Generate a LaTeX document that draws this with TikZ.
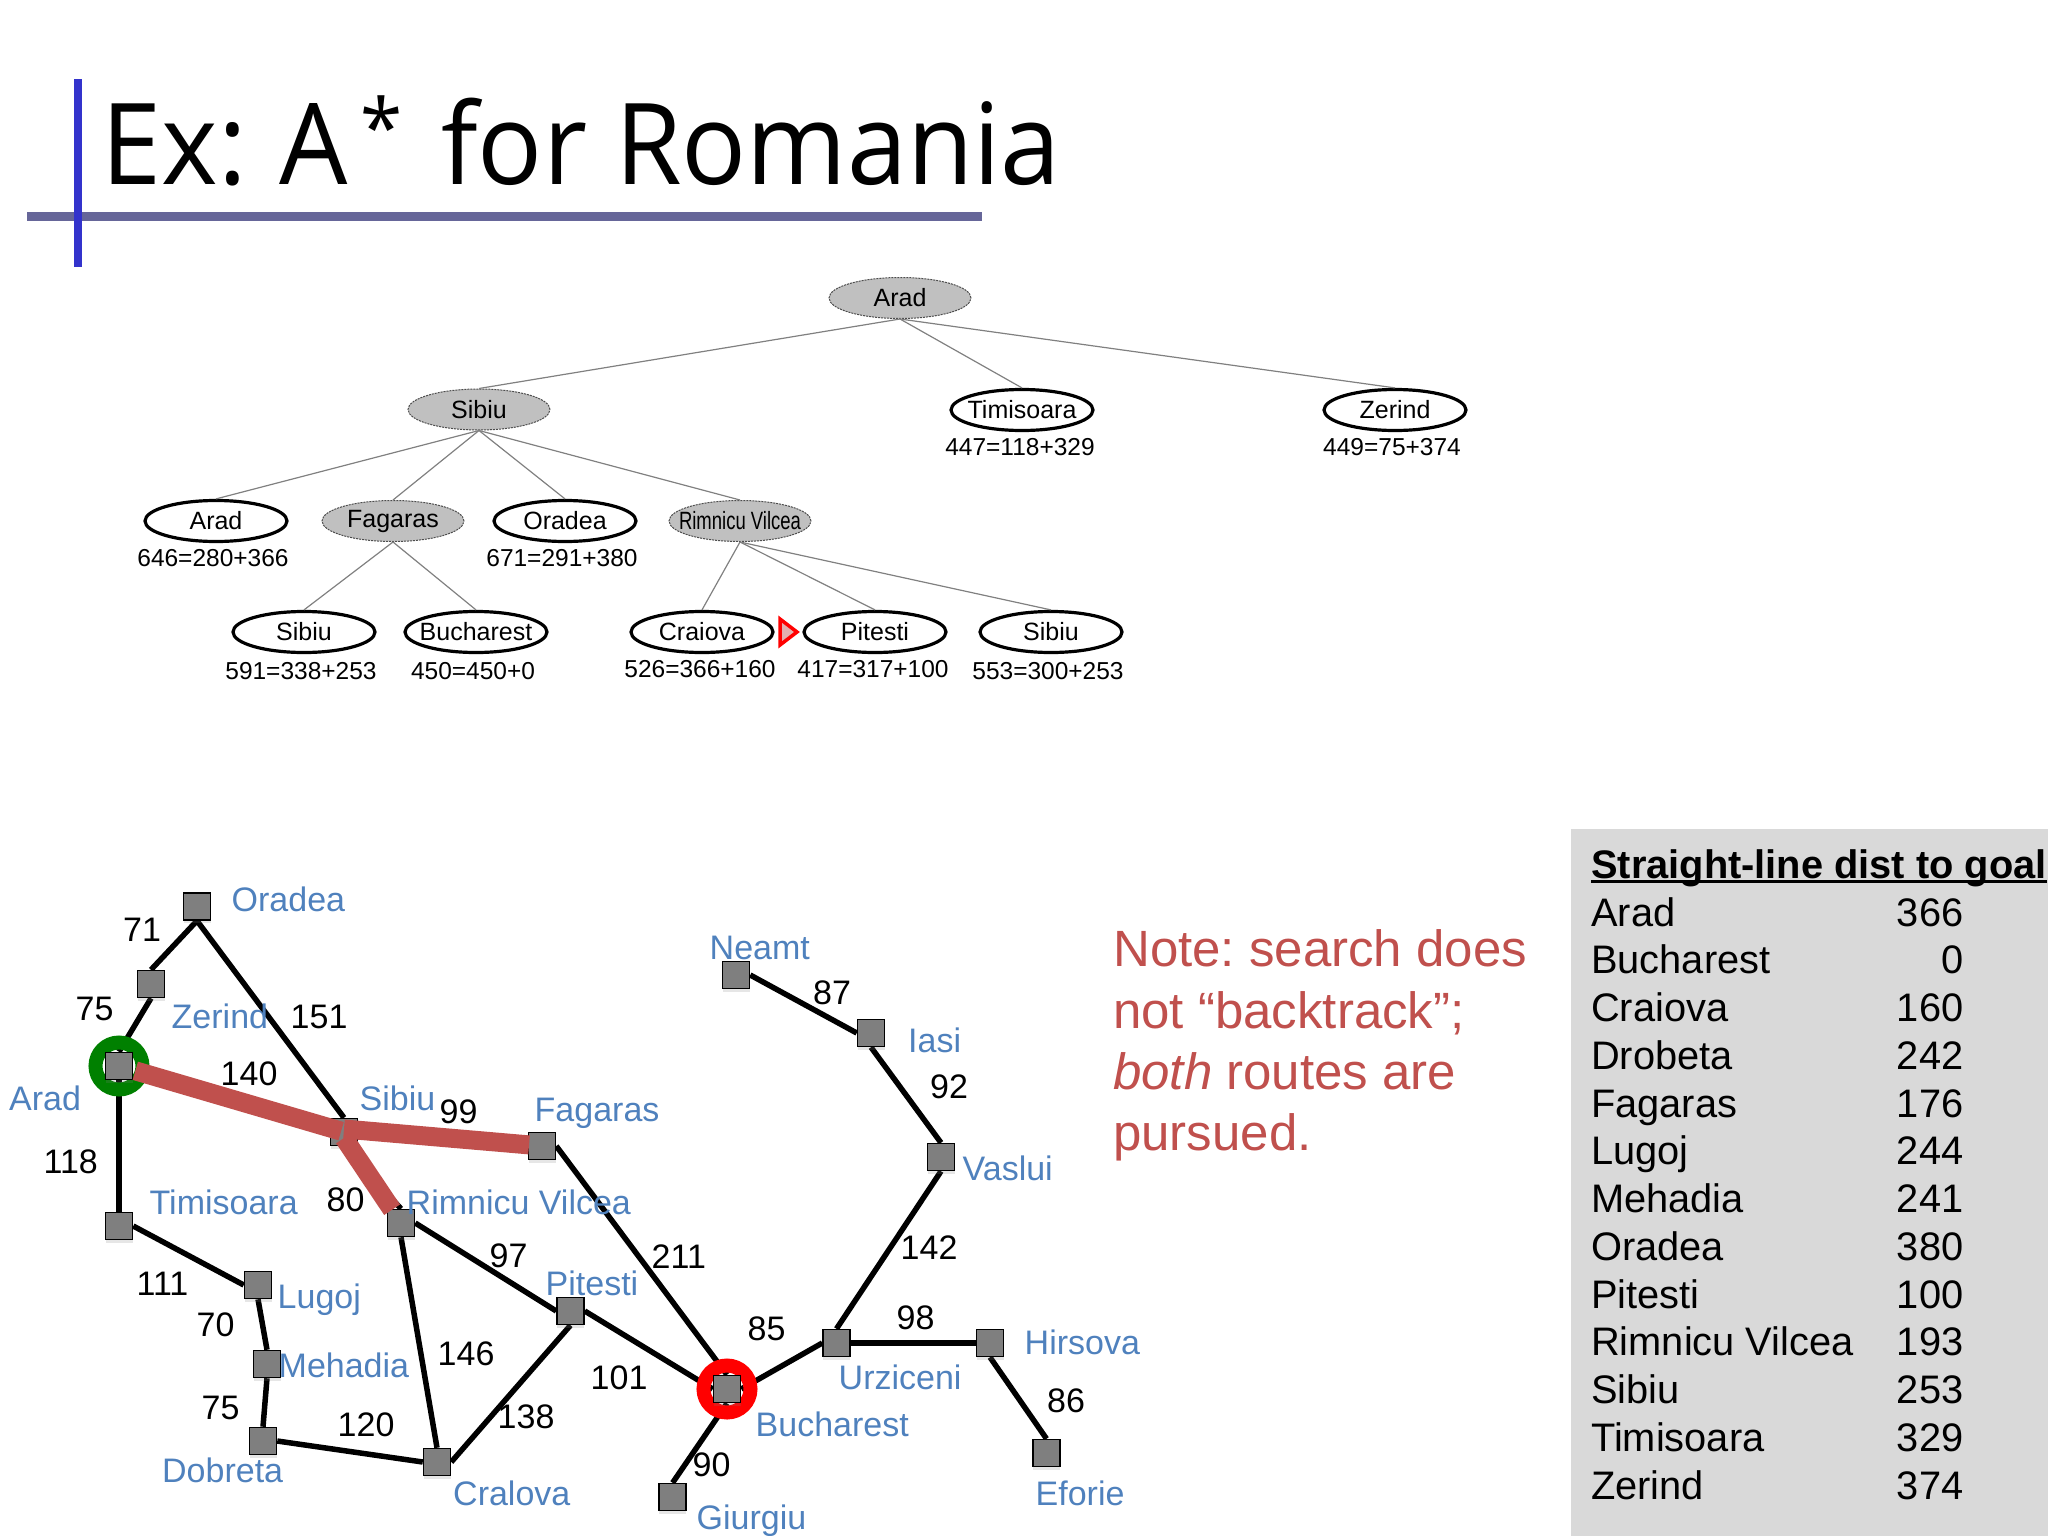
\documentclass[tikz,border=0pt]{standalone}
\usepackage{fontspec}
\setmainfont{Liberation Sans}
\newfontfamily\titlefont{Open Sans}
\usetikzlibrary{shapes.geometric,shadows}
\pgfdeclarelayer{under}
\pgfdeclarelayer{over}
\pgfsetlayers{under,main,over}
\definecolor{blab}{HTML}{4F81BD}
\definecolor{route}{HTML}{C0504D}
\definecolor{nodegray}{HTML}{C0C0C0}
\definecolor{sqgray}{HTML}{7F7F7F}
\definecolor{panel}{HTML}{D9D9D9}
\definecolor{barblue}{HTML}{3333CC}
\definecolor{barmauve}{HTML}{666699}
\definecolor{ringgreen}{HTML}{008000}
\newcommand{\fs}[1]{\fontsize{#1}{#1}\selectfont}
\newcommand{\tl}[2][1]{\makebox[0pt]{\scalebox{#1}[1]{#2}}}
\frenchspacing
\tikzset{
  x=1pt,y=-1pt,
  tn/.style={ellipse,inner sep=0pt,minimum width=142pt,minimum height=41pt,font=\fs{25}},
  open/.style={tn,draw=black,line width=3.2pt,fill=white},
  closed/.style={tn,draw=black!70,line width=1pt,dash pattern=on 2pt off 1pt,fill=nodegray},
  cost/.style={font=\fs{24.5},inner sep=0pt},
  tedge/.style={draw=black!50,line width=1.2pt},
  sq/.style={rectangle,draw=black,line width=1.5pt,fill=sqgray,minimum size=27pt,inner sep=0pt,
    drop shadow={shadow xshift=0pt,shadow yshift=-3pt,opacity=.2}},
  road/.style={draw=black,line width=5.5pt},
  hot/.style={draw=route,line width=19pt},
  ring/.style={circle,line width=14pt,minimum size=47pt,inner sep=0pt},
  city/.style={anchor=base west,inner sep=0pt,text=blab,font=\fs{34}},
  dist/.style={anchor=base west,inner sep=0pt,text=black,font=\fs{34}},
  note/.style={anchor=base west,inner sep=0pt,text=route,font=\fs{51}},
  row/.style={anchor=base west,inner sep=0pt,font=\fs{39.8}},
  val/.style={anchor=base east,inner sep=0pt,font=\fs{39.8}},
}
\begin{document}
\begin{tikzpicture}
\useasboundingbox (0,0) rectangle (2048,1536);
% title
\node[anchor=base west,inner sep=0pt,font=\titlefont\fs{113}] (title) at (101.6,184) {\scalebox{.955}[1]{Ex:\kern5pt\ A\kern13pt\raisebox{28pt}{\fs{80}*}\kern11pt\ for Romania}};
\fill[fill=barmauve] (27,212) rectangle (982,221);
\fill[fill=barblue] (74,79) rectangle (82,267);
% tree
\node[closed] (tArad) at (900,298) {\tl{Arad}};
\node[closed] (tSibiu) at (479,409.5) {\tl{Sibiu}};
\node[open] (tTimi) at (1022,410) {\tl{Timisoara}};
\node[open] (tZer) at (1395,410) {\tl{Zerind}};
\node[open] (tArad2) at (216,521) {\tl{Arad}};
\node[closed] (tFag) at (393,521) {\tl{Fagaras}};
\node[open] (tOra) at (565,521) {\tl{Oradea}};
\node[closed] (tRim) at (740,521) {\tl[.74]{Rimnicu Vilcea}};
\node[open] (tSib2) at (304,632) {\tl{Sibiu}};
\node[open] (tBuc) at (476,632) {\tl{Bucharest}};
\node[open] (tCra) at (702,632) {\tl{Craiova}};
\node[open] (tPit) at (875,632) {\tl{Pitesti}};
\node[open] (tSib3) at (1051,632) {\tl{Sibiu}};
\foreach \a/\b in {tArad/tSibiu,tArad/tTimi,tArad/tZer,tSibiu/tArad2,tSibiu/tFag,tSibiu/tOra,tSibiu/tRim,tFag/tSib2,tFag/tBuc,tRim/tCra,tRim/tPit,tRim/tSib3}
  \draw[tedge] (\a.south) -- (\b.north);
\node[cost] (c1) at (1020,447) {447=118+329};
\node[cost] (c2) at (1392,447) {449=75+374};
\node[cost] (c3) at (213,558) {646=280+366};
\node[cost] (c4) at (562,558) {671=291+380};
\node[cost] (c5) at (301,671) {591=338+253};
\node[cost] (c6) at (473,671) {450=450+0};
\node[cost] (c7) at (700,669) {526=366+160};
\node[cost] (c8) at (873,669) {417=317+100};
\node[cost] (c9) at (1048,671) {553=300+253};
\draw[red,line width=3.5pt,fill=route!45!white,line join=miter] (780,619) -- (797,632) -- (780,645) -- cycle;
% map squares
\foreach \n/\x/\y in {Oradea/197/906.5,Zerind/151/984,Arad/119/1066,Sibiu/344/1132,Fagaras/542/1146,Rimnicu/401/1223,Timisoara/119/1226,Lugoj/258/1285,Mehadia/267/1364,Dobreta/263/1441,Craiova/437/1462,Pitesti/570.5/1311,Neamt/736/975,Iasi/871/1033,Vaslui/941/1157,Bucharest/727/1389,Urziceni/836.5/1343,Hirsova/990/1343,Eforie/1046.5/1453,Giurgiu/672.6/1497}
  \node[sq] (\n) at (\x,\y) {};
\begin{pgfonlayer}{under}
\foreach \a/\b in {Arad.north/Zerind.south,Zerind.north/Oradea.south,Oradea.south/Sibiu.north,Arad.south/Timisoara.north,Timisoara.east/Lugoj.west,Lugoj.south/Mehadia.north,Mehadia.south/Dobreta.north,Dobreta.east/Craiova.west,Sibiu.south/Rimnicu.north,Rimnicu.south/Craiova.north,Rimnicu.east/Pitesti.west,Pitesti.south/Craiova.east,Pitesti.east/Bucharest.west,Fagaras.east/Bucharest.north,Bucharest.south/Giurgiu.north,Bucharest.east/Urziceni.west,Urziceni.east/Hirsova.west,Hirsova.south/Eforie.north,Urziceni.north/Vaslui.south,Vaslui.north/Iasi.south,Iasi.west/Neamt.east}
  \draw[road] (\a) -- (\b);
\node[ring,draw=ringgreen] (startring) at (Arad) {};
\node[ring,draw=red] (goalring) at (Bucharest) {};
\end{pgfonlayer}
\draw[hot,shorten <=17pt,shorten >=3pt] (Arad.center) -- (Sibiu.center);
\draw[hot,shorten >=13pt] ([yshift=3pt]Sibiu.center) -- (Fagaras.center);
\draw[hot,shorten >=16pt] ([yshift=-6pt]Sibiu.center) -- (Rimnicu.center);
% city labels
\begin{scope}[shift={(-1.5,1)}]
\foreach \t/\x/\y in {Oradea/233/910,Zerind/173/1027,Arad/10.5/1109,Timisoara/151/1213,Sibiu/361/1109,Fagaras/536/1120,Rimnicu Vilcea/408/1213,Lugoj/279/1307,Mehadia/280/1376,Dobreta/163.5/1481,Cralova/454.5/1504,Pitesti/547/1294.5,Neamt/711/958,Iasi/909.5/1051,Vaslui/964/1179,Hirsova/1026/1353,Urziceni/840/1388,Bucharest/757/1435,Eforie/1037/1504,Giurgiu/698/1528}
  \node[city] at (\x,\y) {\t};
\foreach \t/\x/\y in {71/124.5/940,75/77/1019,140/222/1084,151/292/1027,118/45/1172,99/441/1122,80/328/1210,97/491/1266.5,111/138/1294.5,70/198/1335,146/439/1364,75/203/1418,120/339/1435.5,138/499/1427,101/592/1388,87/814.5/1003,92/931.5/1097,211/653/1267,142/902/1258,85/749/1339,98/898/1328,86/1048.5/1411,90/694/1475}
  \node[dist] at (\x,\y) {\t};
\end{scope}
% note
\node[note] (n1) at (1113,966) {Note: search does};
\node[note] (n2) at (1113,1028) {not “backtrack”;};
\node[note] (n3) at (1113,1089) {\itshape both \upshape routes are};
\node[note] (n4) at (1113,1150) {pursued.};
% table
\fill[panel] (1571,828.5) rectangle (2048,1536);
\node[row,font=\fs{39.8}\bfseries] (head) at (1591,878) {Straight-line dist to goal};
\draw[line width=2.5pt] ([yshift=-3.5pt]head.base west) -- ([yshift=-3.5pt]head.base east);
\foreach \t/\v [count=\i from 0] in {Arad/366,Bucharest/0,Craiova/160,Drobeta/242,Fagaras/176,Lugoj/244,Mehadia/241,Oradea/380,Pitesti/100,Rimnicu Vilcea/193,Sibiu/253,Timisoara/329,Zerind/374}{
  \pgfmathsetmacro{\yy}{926+\i*47.75}
  \node[row] at (1591,\yy) {\t};
  \node[val] at (1963.5,\yy) {\v};
}
\end{tikzpicture}
\end{document}
